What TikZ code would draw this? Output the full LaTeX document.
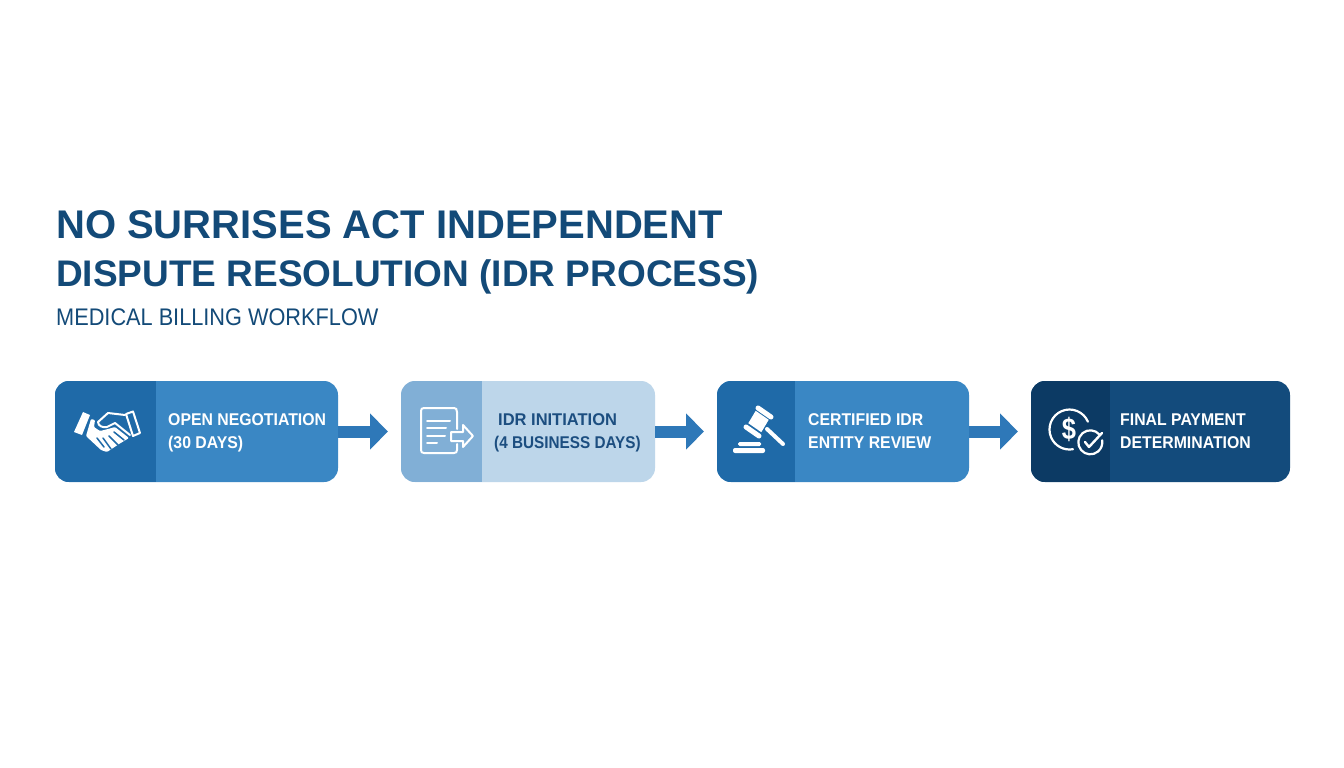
\documentclass[tikz,border=0pt]{standalone}
\usepackage{fontspec}
\setmainfont{Liberation Sans}
\newfontfamily\titlefont{Liberation Sans}
\newfontfamily\subfont[FakeStretch=0.905]{Liberation Sans}
\newfontfamily\stepfont[FakeStretch=0.93]{Liberation Sans}
\newfontfamily\widefont[FakeStretch=0.97]{Liberation Sans}
\newfontfamily\tightfont[FakeStretch=0.9]{Liberation Sans}
\newfontfamily\moneyfont[FakeStretch=0.85]{Liberation Sans}
\usetikzlibrary{arrows.meta}
\definecolor{inkblue}{HTML}{134A78}
\definecolor{midblue}{HTML}{3A87C4}
\definecolor{midleft}{HTML}{1F6AA8}
\definecolor{paleblue}{HTML}{BDD6EA}
\definecolor{paleleft}{HTML}{81AFD6}
\definecolor{paleink}{HTML}{1C4E80}
\definecolor{navy}{HTML}{134B7C}
\definecolor{navyleft}{HTML}{0C3A64}
\definecolor{arrowblue}{HTML}{2E78B8}
\tikzset{
  x=1pt,y=-1pt,
  stepbox/.style={anchor=north west,inner sep=0pt,outer sep=0pt,minimum height=101pt,rounded corners=14pt},
  leftpanel/.style 2 args={path picture={\fill[#2,sharp corners] (path picture bounding box.north west) rectangle ++(#1pt,-101pt);}},
  steptext/.style={anchor=west,align=left,inner sep=0pt,font=\stepfont\bfseries\fontsize{17}{23}\selectfont},
  flow/.style={draw=arrowblue,line width=12pt,shorten >=13pt,-{Triangle[length=18pt,width=35pt]}},
  icon/.style={draw=white,line width=2pt,line cap=round,line join=round},
}
\begin{document}
\begin{tikzpicture}
\useasboundingbox (0,0) rectangle (1344,768);
\fill[white] (0,0) rectangle (1344,768);
\node[anchor=base west,inner sep=0pt,text=inkblue,font=\titlefont\bfseries\fontsize{40}{40}\selectfont] (t1) at (56,238) {NO SURRISES ACT INDEPENDENT};
\node[anchor=base west,inner sep=0pt,text=inkblue,font=\titlefont\bfseries\fontsize{37}{37}\selectfont] (t2) at (56,286) {DISPUTE RESOLUTION (IDR PROCESS)};
\node[anchor=base west,inner sep=0pt,text=inkblue,font=\subfont\fontsize{24}{24}\selectfont] (t3) at (56,325) {MEDICAL BILLING WORKFLOW};

\node[stepbox,minimum width=283pt,fill=midblue,leftpanel={101}{midleft}] (a) at (55,381) {};
\node[stepbox,minimum width=254pt,fill=paleblue,leftpanel={81}{paleleft}] (b) at (401,381) {};
\node[stepbox,minimum width=252pt,fill=midblue,leftpanel={78}{midleft}] (c) at (717,381) {};
\node[stepbox,minimum width=259pt,fill=navy,leftpanel={79}{navyleft}] (d) at (1031,381) {};

\draw[flow] (a.east) -- (b.west);
\draw[flow] (b.east) -- (c.west);
\draw[flow] (c.east) -- (d.west);

\node[steptext,text=white] (ta) at (168,433) {OPEN NEGOTIATION\\(30 DAYS)};
\node[steptext,text=paleink] (tb) at (494,433) {\hspace*{4pt}{\widefont IDR INITIATION}\\{\tightfont (4 BUSINESS DAYS)}};
\node[steptext,text=white] (tc) at (808,431) {CERTIFIED IDR\\ENTITY REVIEW};
\node[steptext,text=white] (td) at (1120,431) {FINAL PAYMENT\\DETERMINATION};

% handshake
\fill[white] (83,412) -- (90,415) -- (82,435) -- (74,432) -- cycle;
\draw[icon] (126,414) -- (133,411.5) -- (140,433) -- (133,436) -- cycle;
\fill[white,rounded corners=1pt] (91,419) -- (95,420) -- (94,427) -- (100,431) -- (108,429) -- (115,427) -- (129,438) -- (124,441) -- (119,444) -- (113,448) -- (107,452) -- (101,450) -- (86,436) -- cycle;
\draw[midleft,line width=1.5pt,line cap=round] (114,432) -- (124,440) (109,436) -- (118,445) (103,438) -- (111,449) (97,438) -- (104,447);
\draw[icon,line width=2pt] (125,415) -- (108,413) -- (98,422) .. controls (98,426) and (103,428) .. (107,427) -- (115,423) -- (130,435);
% document
\draw[icon] (457,429) -- (457,412) .. controls (457,409) and (456,408) .. (454,408) -- (424,408) .. controls (422,408) and (421,409) .. (421,411) -- (421,450) .. controls (421,452) and (422,453) .. (424,453) -- (454,453) .. controls (456,453) and (457,452) .. (457,450) -- (457,444);
\draw[icon] (427,421) -- (450,421) (427,428) -- (446,428) (427,436) -- (445,436) (427,443) -- (437,443);
\draw[icon] (451,432) -- (463,432) -- (463,425) -- (473,436) -- (463,447) -- (463,441) -- (451,441) -- cycle;
% gavel
\draw[white,line width=5pt,line cap=round] (758,408) -- (771,417);
\draw[white,line width=5pt,line cap=round] (746,427) -- (759,436);
\fill[white] (768.7,419.8) -- (755.7,410.8) -- (748.3,423.2) -- (761.3,432.2) -- cycle;
\draw[white,line width=4pt,line cap=round] (767,429) -- (783,444);
\fill[white,rounded corners=1.5pt] (738,442) rectangle (761,446);
\fill[white,rounded corners=2pt] (733,448) rectangle (765,453);
% payment
\draw[icon,line width=2.2pt] (1087.9,421.7) arc[start angle=23,end angle=280,radius=20pt];
\node[anchor=center,inner sep=0pt,text=white,font=\moneyfont\bfseries\fontsize{30}{30}\selectfont] (dollar) at (1069,429) {\$};
\draw[icon,line width=2.2pt] (1099.5,434.6) arc[start angle=40,end angle=370,radius=12pt];
\draw[icon,line width=2.4pt] (1085,442) -- (1089,447) -- (1102,433);
\end{tikzpicture}
\end{document}
